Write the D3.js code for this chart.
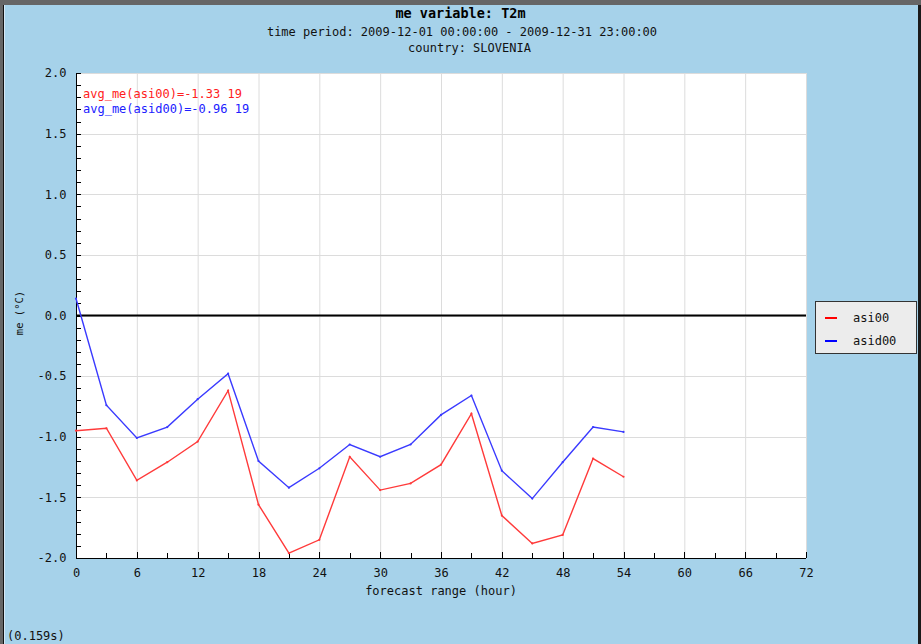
<!DOCTYPE html>
<html><head><meta charset="utf-8">
<script src="https://cdn.jsdelivr.net/npm/d3@7"></script>
<style>body{margin:0;padding:0;overflow:hidden;background:#a6d2ea}text{font-family:"DejaVu Sans Mono",monospace}</style>
</head><body>
<script>
const hours = [0,3,6,9,12,15,18,21,24,27,30,33,36,39,42,45,48,51,54];
const asi00 = [-0.95,-0.93,-1.36,-1.21,-1.04,-0.62,-1.56,-1.96,-1.85,-1.165,-1.44,-1.385,-1.23,-0.81,-1.65,-1.88,-1.81,-1.18,-1.33];
const asid00 = [0.14,-0.74,-1.01,-0.92,-0.69,-0.48,-1.20,-1.42,-1.26,-1.064,-1.165,-1.064,-0.82,-0.66,-1.28,-1.51,-1.21,-0.92,-0.96];
const seriesNames = ["asi00","asid00"];
const seriesColors = ["#ff3a3a","#3a3aff"];
const xTicks = [0,6,12,18,24,30,36,42,48,54,60,66,72];
const yTicks = [2.0,1.5,1.0,0.5,0.0,-0.5,-1.0,-1.5,-2.0];
const titleLines = ["me variable: T2m","time period: 2009-12-01 00:00:00 - 2009-12-31 23:00:00","country: SLOVENIA"];
const annotations = ["avg_me(asi00)=-1.33 19","avg_me(asid00)=-0.96 19"];

const W=921,H=644;
const svg=d3.select("body").append("svg").attr("width",W).attr("height",H);
svg.append("rect").attr("width",W).attr("height",H).attr("fill","#a6d2ea");
// frame
svg.append("rect").attr("x",0).attr("y",0).attr("width",W).attr("height",5).attr("fill","#666");
svg.append("rect").attr("x",0).attr("y",0).attr("width",3).attr("height",H).attr("fill","#666");
svg.append("rect").attr("x",3).attr("y",5).attr("width",1).attr("height",H).attr("fill","#111");
svg.append("rect").attr("x",4).attr("y",5).attr("width",1).attr("height",H).attr("fill","#d6e8f4");
svg.append("rect").attr("x",918).attr("y",5).attr("width",3).attr("height",H).attr("fill","#1a1a1a");

const x=d3.scaleLinear().domain([0,72]).range([76,806]);
const y=d3.scaleLinear().domain([-2,2]).range([558,73]);

svg.append("rect").attr("x",76).attr("y",73).attr("width",730).attr("height",485).attr("fill","#fff");

// grid
const g=svg.append("g");
g.selectAll(".vg").data(xTicks.slice(1)).enter().append("line")
 .attr("x1",d=>x(d)+0.5).attr("x2",d=>x(d)+0.5).attr("y1",73).attr("y2",558).attr("stroke","#dcdcdc");
g.selectAll(".hg").data(yTicks.slice(0,-1)).enter().append("line")
 .attr("x1",76).attr("x2",806).attr("y1",d=>Math.round(y(d))+0.5).attr("y2",d=>Math.round(y(d))+0.5).attr("stroke","#dcdcdc");

// axes
const yAxis=d3.axisLeft(y).tickValues(yTicks).tickSize(0).tickPadding(10).tickFormat(d3.format(".1f"));
const ya=svg.append("g").attr("transform","translate(76.5,0)").call(yAxis);
ya.select(".domain").remove();
ya.selectAll("text").attr("font-size",12).attr("fill","#111").text(d=>d3.format(".1f")(d).replace("−","-"));
const yMinor=d3.range(-20,21).map(i=>i/10);
svg.append("g").selectAll("line").data(yMinor).enter().append("line")
 .attr("x1",76).attr("x2",81).attr("y1",d=>Math.round(y(d))+0.5).attr("y2",d=>Math.round(y(d))+0.5).attr("stroke","#000");

const xAxis=d3.axisBottom(x).tickValues(xTicks).tickSize(0).tickPadding(10).tickFormat(d3.format("d"));
const xa=svg.append("g").attr("transform","translate(0,558)").call(xAxis);
xa.select(".domain").remove();
xa.selectAll("text").attr("font-size",12).attr("fill","#111");
const xMinor=d3.range(0,73,3);
svg.append("g").selectAll("line").data(xMinor).enter().append("line")
 .attr("x1",d=>Math.round(x(d))+0.5).attr("x2",d=>Math.round(x(d))+0.5).attr("y1",558).attr("y2",d=>d%6===0?552:553).attr("stroke","#000");

svg.append("line").attr("x1",76.5).attr("x2",76.5).attr("y1",73).attr("y2",559).attr("stroke","#000");
svg.append("line").attr("x1",76).attr("x2",806).attr("y1",558.5).attr("y2",558.5).attr("stroke","#000");
// zero line
svg.append("line").attr("x1",76).attr("x2",806).attr("y1",y(0)).attr("y2",y(0)).attr("stroke","#000").attr("stroke-width",2);

// series
[asi00,asid00].forEach((vals,i)=>{
  const pts=hours.map((h,j)=>[h,vals[j]]);
  svg.append("path").datum(pts).attr("fill","none").attr("stroke",seriesColors[i]).attr("stroke-width",1.4)
   .attr("d",d3.line().x(d=>x(d[0])).y(d=>y(d[1])));
  svg.append("g").selectAll("circle").data(pts).enter().append("circle")
   .attr("cx",d=>x(d[0])).attr("cy",d=>y(d[1])).attr("r",1.1).attr("fill",seriesColors[i]);
});

// annotations
annotations.forEach((t,i)=>{
  svg.append("text").attr("x",83).attr("y",98+i*15).attr("font-size",12).attr("fill",i?"#2020ff":"#ff2020").text(t);
});

// titles
svg.append("text").attr("x",460.5).attr("y",18).attr("text-anchor","middle").attr("font-size",13.5).attr("font-weight","bold").attr("fill","#000").text(titleLines[0]);
svg.append("text").attr("x",462).attr("y",36).attr("text-anchor","middle").attr("font-size",12).attr("fill","#111").text(titleLines[1]);
svg.append("text").attr("x",469.5).attr("y",52).attr("text-anchor","middle").attr("font-size",12).attr("fill","#111").text(titleLines[2]);

// axis labels
svg.append("text").attr("x",441).attr("y",595).attr("text-anchor","middle").attr("font-size",12).attr("fill","#111").text("forecast range (hour)");
svg.append("text").attr("transform","translate(23,313) rotate(-90)").attr("text-anchor","middle").attr("font-size",10.5).attr("fill","#111").text("me (°C)");

// legend
svg.append("rect").attr("x",815.5).attr("y",301.5).attr("width",101).attr("height",52).attr("fill","#ececec").attr("stroke","#333");
seriesNames.forEach((n,i)=>{
  const yy=318+i*23;
  svg.append("line").attr("x1",825).attr("x2",837).attr("y1",yy).attr("y2",yy).attr("stroke",i?"#0000ff":"#ff0000").attr("stroke-width",2);
  svg.append("text").attr("x",853).attr("y",yy+4).attr("font-size",12).attr("fill","#111").text(n);
});

svg.append("text").attr("x",7).attr("y",640).attr("font-size",12).attr("fill","#111").text("(0.159s)");
</script>
</body></html>
